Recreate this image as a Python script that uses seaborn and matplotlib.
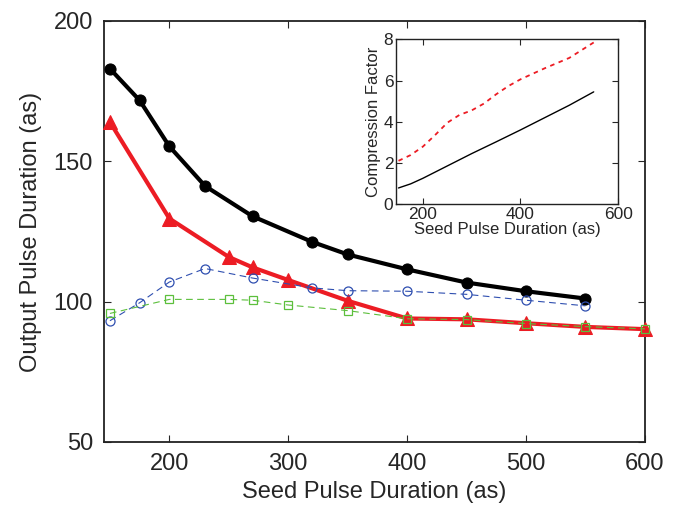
import matplotlib
matplotlib.use('Agg')
import matplotlib.pyplot as plt
import seaborn as sns

# values
seed_black = [150, 175, 200, 230, 270, 320, 350, 400, 450, 500, 550]
out_black = [183, 171.7, 155.3, 141.2, 130.4, 121.3, 116.8, 111.5, 106.8, 103.7, 101.1]

seed_red = [150, 200, 250, 270, 300, 350, 400, 450, 500, 550, 600]
out_red = [164, 129.6, 115.9, 112.2, 107.7, 100.3, 94.0, 93.7, 92.3, 91.0, 90.2]

seed_blue = [150, 175, 200, 230, 270, 320, 350, 400, 450, 500, 550]
out_blue = [93.2, 99.6, 107.0, 111.8, 108.4, 104.9, 103.9, 103.7, 102.6, 100.5, 98.5]

seed_green = [150, 200, 250, 270, 300, 350, 400, 450, 500, 550, 600]
out_green = [95.8, 100.8, 100.8, 100.5, 98.8, 96.8, 93.9, 93.6, 92.2, 91.1, 90.3]

# inset: compression factor
seed_cf_black = [150, 175, 200, 250, 300, 350, 400, 450, 500, 550]
cf_black = [0.78, 0.98, 1.25, 1.85, 2.45, 3.02, 3.6, 4.2, 4.8, 5.45]

seed_cf_red = [150, 175, 200, 225, 250, 275, 300, 325, 350, 375, 400, 450, 500, 550]
cf_red = [2.1, 2.38, 2.79, 3.35, 3.95, 4.33, 4.55, 4.88, 5.33, 5.73, 6.06, 6.6, 7.1, 7.85]

sns.set_style('ticks')
plt.rcParams['font.family'] = ['Liberation Sans', 'DejaVu Sans']

RED = '#ec1c24'
BLUE = '#2f4fb0'
GREEN = '#5cbf3c'

fig = plt.figure(figsize=(6.77, 5.05), dpi=100)
ax = fig.add_axes([0.1536, 0.1248, 0.799, 0.8337])

sns.lineplot(x=seed_black, y=out_black, ax=ax, color='black', lw=3,
             marker='o', markersize=8, markeredgecolor='black', zorder=3,
             clip_on=False)
sns.lineplot(x=seed_red, y=out_red, ax=ax, color=RED, lw=3,
             marker='^', markersize=10, markeredgecolor=RED, zorder=4,
             clip_on=False)
sns.lineplot(x=seed_blue, y=out_blue, ax=ax, color=BLUE, lw=0.8,
             linestyle=(0, (6, 4)), marker='o', markersize=6.5,
             markerfacecolor='none', markeredgecolor=BLUE, markeredgewidth=0.9,
             zorder=5, clip_on=False)
sns.lineplot(x=seed_green, y=out_green, ax=ax, color=GREEN, lw=0.8,
             linestyle=(0, (6, 4)), marker='s', markersize=6,
             markerfacecolor='none', markeredgecolor=GREEN, markeredgewidth=0.9,
             zorder=6, clip_on=False)

ax.set_xlim(145, 600)
ax.set_ylim(50, 200)
ax.set_xticks([200, 300, 400, 500, 600])
ax.set_yticks([50, 100, 150, 200])
ax.tick_params(direction='in', length=5, width=0.8, top=True, right=True,
               labelsize=17, pad=8)
for s in ax.spines.values():
    s.set_linewidth(1.3)
    s.set_color('#222222')
ax.set_xlabel('Seed Pulse Duration (as)', fontsize=17, labelpad=4)
ax.set_ylabel('Output Pulse Duration (as)', fontsize=17, labelpad=8)

# inset
ins = fig.add_axes([0.585, 0.596, 0.328, 0.326])
sns.lineplot(x=seed_cf_black, y=cf_black, ax=ins, color='black', lw=1)
sns.lineplot(x=seed_cf_red, y=cf_red, ax=ins, color=RED, lw=1.3,
             linestyle=(0, (2.5, 2.5)))
ins.set_xlim(145, 600)
ins.set_ylim(0, 8)
ins.set_xticks([200, 400, 600])
ins.set_yticks([0, 2, 4, 6, 8])
ins.tick_params(direction='in', length=4, width=0.8, top=True, right=True,
                labelsize=12.5, pad=2)
for s in ins.spines.values():
    s.set_linewidth(1)
    s.set_color('#222222')
ins.set_xlabel('Seed Pulse Duration (as)', fontsize=12, labelpad=0)
ins.set_ylabel('Compression Factor', fontsize=12, labelpad=2)

fig.savefig('out.png', dpi=100)
